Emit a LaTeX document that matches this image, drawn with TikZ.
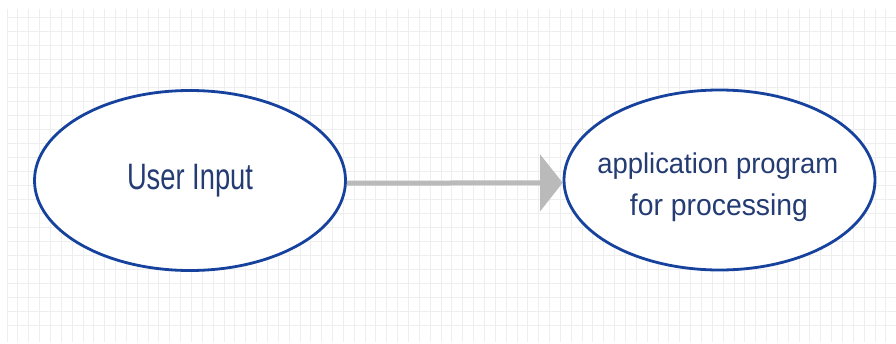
\documentclass[tikz,border=0pt]{standalone}
\usepackage{fontspec}
\setmainfont{Liberation Sans}
\usetikzlibrary{shapes.geometric,arrows.meta}
\definecolor{gridgray}{RGB}{238,238,238}
\definecolor{ovalblue}{RGB}{22,66,158}
\definecolor{labelnavy}{RGB}{36,60,115}
\definecolor{flowgray}{RGB}{186,186,186}
\tikzset{
  oval/.style={ellipse, draw=ovalblue, line width=2.8pt, fill=white,
    minimum width=311pt, minimum height=180pt, inner sep=0pt,
    text=labelnavy},
  lbl/.style={inner sep=0pt, text=labelnavy, anchor=base},
  flow/.style={draw=flowgray, line width=5pt,
    -{Triangle[length=22.6pt,width=56pt]}, color=flowgray},
}
\begin{document}
\begin{tikzpicture}[x=1pt,y=-1pt]
  % page
  \fill[white] (0,0) rectangle (896,343);
  \useasboundingbox (0,0) rectangle (896,343);
  % background grid
  \begin{scope}[gridgray, line width=0.9pt]
    \foreach \i in {0,...,81} {
      \draw ({7+10.85*\i},9) -- ({7+10.85*\i},342);
    }
    \foreach \j in {0,...,22} {
      \draw (7,{17.7+14.01*\j}) -- (896,{17.7+14.01*\j});
    }
  \end{scope}
  % the two process ovals
  \node[oval] (L) at (190,180.5) {\resizebox{126pt}{25.3pt}{User Input}};
  \node[oval] (R) at (719.5,180) {};
  \node[lbl, xshift=-1.7pt, yshift=6.7pt] (R1) at (R.center)
    {\resizebox{241pt}{20.7pt}{application program}};
  \node[lbl, xshift=-0.5pt, yshift=-35pt] (R2) at (R.center)
    {\resizebox{178pt}{21.7pt}{for processing}};
  % flow arrow
  \draw[flow] (L.-1.65) -- (R.181.8);
\end{tikzpicture}
\end{document}
